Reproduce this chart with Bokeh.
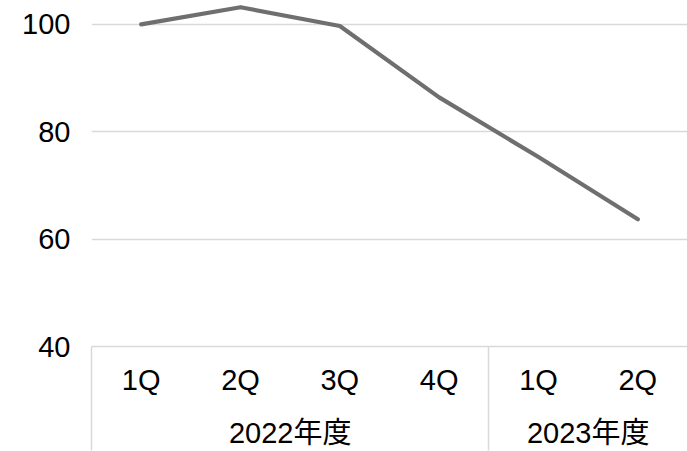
from bokeh.plotting import figure
from bokeh.models import FixedTicker, Range1d, LinearAxis
from bokeh.embed import file_html
from bokeh.resources import INLINE

# ---- data ----
fiscal_years = ["2022年度", "2022年度", "2022年度", "2022年度", "2023年度", "2023年度"]
quarters = ["1Q", "2Q", "3Q", "4Q", "1Q", "2Q"]
values = [100, 103.2, 99.7, 86.4, 75.3, 63.7]
y_ticks = [40, 60, 80, 100]

# category slots (centre of each category band)
n = len(quarters)
xpos = [i + 0.5 for i in range(n)]
quarter_labels = {x: q for x, q in zip(xpos, quarters)}

# group centres / boundaries derived from the category list
year_order = list(dict.fromkeys(fiscal_years))
year_labels = {}
boundaries = [0]
for yr in year_order:
    idx = [i for i, y in enumerate(fiscal_years) if y == yr]
    year_labels[(idx[0] + idx[-1]) / 2 + 0.5] = yr
    if idx[0] != 0:
        boundaries.append(idx[0])

FONT = "'Liberation Sans', Arial, 'Noto Sans CJK JP', sans-serif"
FS = "29px"
GRID = "#d9d9d9"

p = figure(
    width=687, height=451,
    x_range=Range1d(0, n), y_range=Range1d(40, 104.45),
    output_backend="svg", toolbar_location=None,
    min_border_left=91, min_border_right=0, min_border_top=0, min_border_bottom=104,
)
p.outline_line_color = None
p.background_fill_color = "white"
p.border_fill_color = "white"

p.line(x=xpos, y=values, line_color="#6f6f6f", line_width=4.2, line_join="round", line_cap="round")

# y axis
p.yaxis.ticker = FixedTicker(ticks=y_ticks)
p.yaxis.axis_line_color = None
p.yaxis.major_tick_line_color = None
p.yaxis.minor_tick_line_color = None
p.yaxis.major_tick_in = 0
p.yaxis.major_tick_out = 0
p.yaxis.minor_tick_in = 0
p.yaxis.minor_tick_out = 0
p.yaxis.major_label_standoff = 21
p.yaxis.major_label_text_font = FONT
p.yaxis.major_label_text_font_size = FS
p.yaxis.major_label_text_color = "black"

p.ygrid.ticker = FixedTicker(ticks=y_ticks)
p.ygrid.grid_line_color = GRID
p.ygrid.grid_line_width = 1.5
p.xgrid.grid_line_color = None

# x axis 1: quarter labels
xa = p.xaxis[0]
xa.ticker = FixedTicker(ticks=xpos)
xa.major_label_overrides = quarter_labels
xa.axis_line_color = GRID
xa.axis_line_width = 1.5
xa.major_tick_line_color = None
xa.minor_tick_line_color = None
xa.major_tick_in = 0
xa.major_tick_out = 0
xa.minor_tick_in = 0
xa.minor_tick_out = 0
xa.major_label_standoff = 17
xa.major_label_text_font = FONT
xa.major_label_text_font_size = FS
xa.major_label_text_color = "black"

# x axis 2: fiscal-year labels + group separators (minor ticks)
ya = LinearAxis(
    ticker=FixedTicker(ticks=list(year_labels.keys()), minor_ticks=boundaries),
    major_label_overrides=year_labels,
    axis_line_color=None,
    major_tick_line_color=None,
    major_tick_in=0, major_tick_out=0,
    minor_tick_line_color=GRID, minor_tick_line_width=1.5,
    minor_tick_in=52, minor_tick_out=52,
    major_label_standoff=-34,
    major_label_text_font=FONT,
    major_label_text_font_size=FS,
    major_label_text_color="black",
)
p.add_layout(ya, "below")

open("out.html", "w").write(file_html(p, INLINE))
